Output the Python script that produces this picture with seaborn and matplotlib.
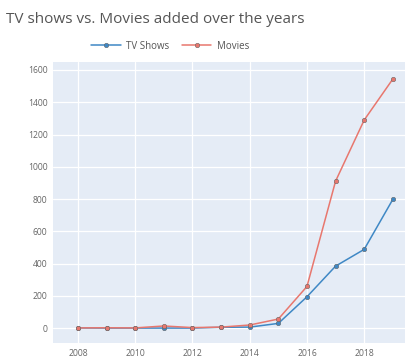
import numpy as np
import pandas as pd
import matplotlib
matplotlib.use("Agg")
import matplotlib.pyplot as plt
import seaborn as sns

years = [2008, 2009, 2010, 2011, 2012, 2013, 2014, 2015, 2016, 2017, 2018, 2019]
tv_shows = [1, 0, 0, 0, 0, 5, 6, 29, 194, 384, 488, 798]
movies = [1, 2, 1, 13, 3, 6, 19, 56, 258, 911, 1290, 1544]
series_names = ["TV Shows", "Movies"]
x_ticks = [2008, 2010, 2012, 2014, 2016, 2018]
y_ticks = [0, 200, 400, 600, 800, 1000, 1200, 1400, 1600]

df = pd.DataFrame({
    "year": years * 2,
    "count": tv_shows + movies,
    "type": [series_names[0]] * len(years) + [series_names[1]] * len(years),
})

sns.set_theme(style="darkgrid")
plt.rcParams["font.family"] = ["Open Sans", "DejaVu Sans"]

fig = plt.figure(figsize=(4.08, 3.6), dpi=100)
ax = fig.add_axes([0.13, 0.047, 0.863, 0.781])
ax.set_facecolor("#e5ecf6")

palette = {"TV Shows": "#3f88c5", "Movies": "#e8776e"}
sns.lineplot(data=df, x="year", y="count", hue="type", palette=palette,
             marker="o", markersize=3.2, linewidth=1.1, markeredgewidth=0.4,
             markeredgecolor="#666666", ax=ax, legend=True)

ax.set_xlim(2007.13, 2019.43)
ax.set_ylim(-93, 1650)
ax.set_xticks(x_ticks)
ax.set_yticks(y_ticks)
ax.set_xticklabels([str(t) for t in x_ticks])
ax.set_yticklabels([str(t) for t in y_ticks])
ax.grid(True, color="white", linewidth=0.9)
ax.tick_params(axis="both", labelsize=6.2, colors="#666666", length=0, pad=4)
ax.set_xlabel("")
ax.set_ylabel("")
for s in ax.spines.values():
    s.set_visible(False)

handles, labels = ax.get_legend_handles_labels()
leg = fig.legend(handles, labels, loc="center", bbox_to_anchor=(0.418, 0.872),
                 ncol=2, frameon=False, fontsize=7, handlelength=3.0,
                 columnspacing=1.3, handletextpad=0.6)
for t in leg.get_texts():
    t.set_color("#555555")
ax.get_legend().remove()

fig.text(0.015, 0.945, "TV shows vs. Movies added over the years", fontsize=11,
         color="#555555", ha="left", va="center")

fig.savefig("out.png", dpi=100, facecolor="white")
